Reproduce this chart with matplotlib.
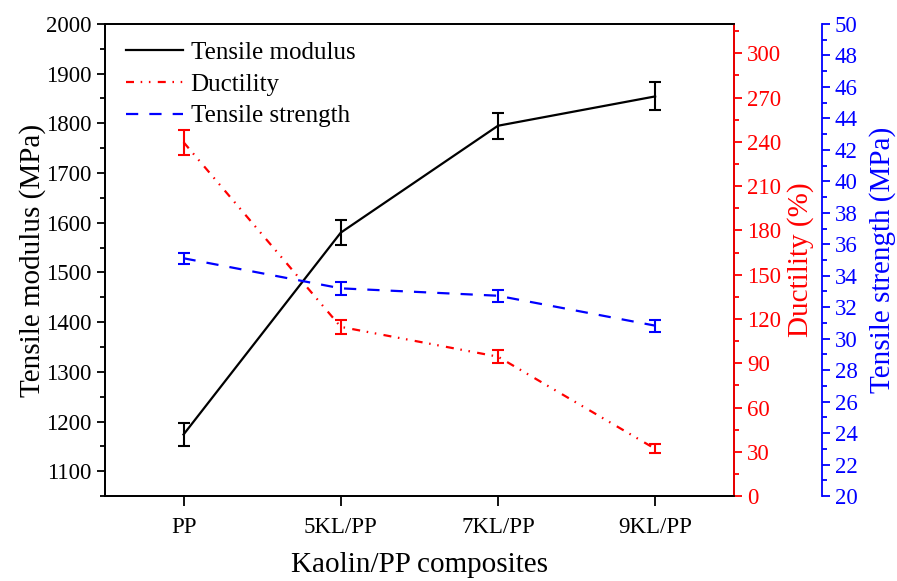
import matplotlib
matplotlib.use('Agg')
import matplotlib.pyplot as plt
from matplotlib.ticker import MultipleLocator

plt.rcParams['font.family'] = ['Liberation Serif', 'DejaVu Serif']

samples = ['PP', '5KL/PP', '7KL/PP', '9KL/PP']
modulus = [1174, 1580, 1795, 1854]
modulus_err = [23, 25, 26, 28]
ductility = [239.8, 114.7, 94.5, 32.1]
ductility_err = [8.5, 4.8, 4.5, 3.0]
strength = [35.11, 33.20, 32.73, 30.83]
strength_err = [0.35, 0.40, 0.37, 0.38]

fig, ax = plt.subplots(figsize=(8.97, 5.81), dpi=100)
fig.subplots_adjust(left=0.117, right=0.818, bottom=0.146, top=0.959)
ax2 = ax.twinx()
ax3 = ax.twinx()
ax3.spines['right'].set_position(('axes', 1.14))

x = list(range(len(samples)))
ebkw = dict(capsize=4, capthick=1.5, elinewidth=1.5)

l1 = ax.errorbar(x, modulus, yerr=modulus_err, color='black', lw=1.6,
                 ecolor='black', **ebkw)
l2 = ax2.errorbar(x, ductility, yerr=ductility_err, color='red', lw=1.6,
                  ls=(0, (3.6, 3, 0.7, 3, 0.7, 3.3)), ecolor='red', **ebkw)
l3 = ax3.errorbar(x, strength, yerr=strength_err, color='blue', lw=1.6,
                  ls=(0, (5.5, 5)), ecolor='blue', **ebkw)

# axes limits and ticks
ax.set_xlim(-0.5, 3.5)
ax.set_xticks(x)
ax.set_xticklabels(samples)
ax.set_ylim(1050, 2000)
ax.yaxis.set_minor_locator(MultipleLocator(50))
ax.set_yticks(range(1100, 2001, 100))

ax2.set_ylim(0, 320)
ax2.yaxis.set_minor_locator(MultipleLocator(15))
ax2.set_yticks(range(0, 301, 30))

ax3.set_ylim(20, 50)
ax3.yaxis.set_major_locator(MultipleLocator(2))
ax3.yaxis.set_minor_locator(MultipleLocator(1))

for a in (ax, ax2, ax3):
    a.tick_params(which='major', length=6, width=1.3, labelsize=16.5)
    a.tick_params(which='minor', length=3.5, width=1.3)
    for s in a.spines.values():
        s.set_linewidth(1.3)

ax.tick_params(axis='x', which='major', length=7, pad=8)

ax2.spines['right'].set_color('red')
ax2.tick_params(axis='y', which='both', colors='red')
ax3.spines['right'].set_color('blue')
ax3.tick_params(axis='y', which='both', colors='blue')
for s in ('top', 'left', 'bottom'):
    ax3.spines[s].set_visible(False)

ax.set_xlabel('Kaolin/PP composites', fontsize=21, labelpad=10)
ax.set_ylabel('Tensile modulus (MPa)', fontsize=21, labelpad=0)
ax2.set_ylabel('Ductility (%)', fontsize=21, color='red', labelpad=4)
ax3.set_ylabel('Tensile strength (MPa)', fontsize=21, color='blue', labelpad=8)

handles = [l1.lines[0], l2.lines[0], l3.lines[0]]
labels = ['Tensile modulus', 'Ductility', 'Tensile strength']
ax.legend(handles, labels, loc='upper left', frameon=False, fontsize=18,
          handlelength=2.3, handletextpad=0.3, labelspacing=0.37,
          borderaxespad=0.3, bbox_to_anchor=(0.005, 1.0))

fig.savefig('out.png', dpi=100)
